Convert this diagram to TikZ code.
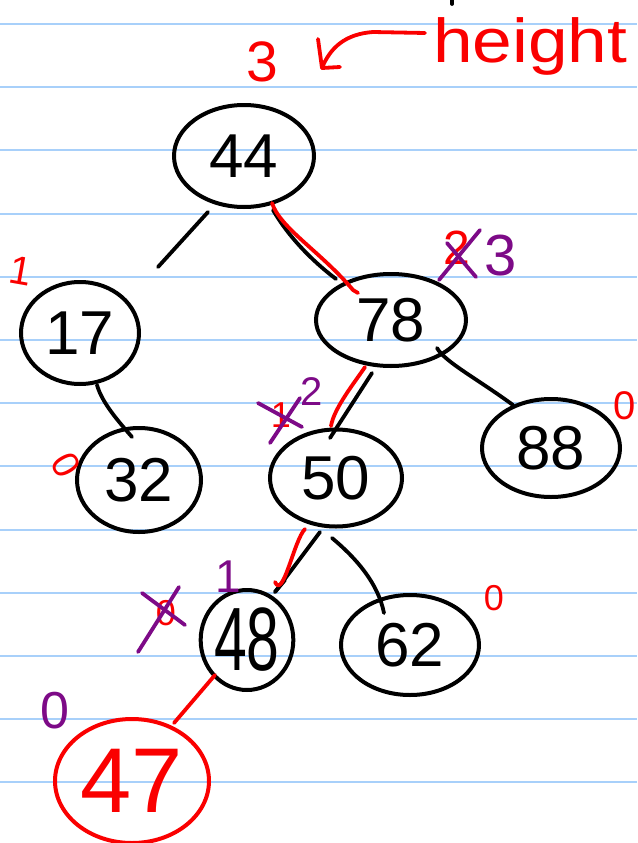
\documentclass[tikz,border=0pt]{standalone}
\usepackage{fontspec}
\usepackage{graphicx}
\setmainfont{Liberation Sans}
\usetikzlibrary{shapes.geometric,calc}
\definecolor{penred}{RGB}{250,0,0}
\definecolor{penpurple}{RGB}{125,10,135}
\definecolor{ruleblue}{RGB}{168,208,250}
\begin{document}
\begin{tikzpicture}[x=1pt,y=-1pt,
  treenode/.style={ellipse, draw=black, line width=4pt, inner sep=0pt, text=black,
    font=\fontsize{62}{62}\selectfont},
  pen/.style={line width=3.8pt, line cap=round, line join=round},
  redpen/.style={pen, draw=penred},
  purplepen/.style={pen, draw=penpurple},
  redlabel/.style={text=penred, inner sep=0pt},
  purplelabel/.style={text=penpurple, inner sep=0pt},
  rule/.style={draw=ruleblue, line width=2pt}]
\fill[white] (0,0) rectangle (637,843);
\useasboundingbox (0,0) rectangle (637,843);
% ruled paper
\foreach \k in {0,...,12} \draw[rule] (0,{24+63.2*\k}) -- (637,{24+63.2*\k});
% tiny mark at top
\draw[pen] (452,0) -- (452,4);

% tree nodes
\node[treenode, minimum width=140pt, minimum height=102pt] (n44) at (244,156) {44};
\node[treenode, minimum width=118pt, minimum height=102pt] (n17) at (80,333) {17};
\node[treenode, minimum width=150pt, minimum height=92pt] (n78) at (391,320) {78};
\node[treenode, minimum width=124pt, minimum height=104pt] (n32) at (139,480) {32};
\node[treenode, minimum width=132pt, minimum height=97pt] (n50) at (336,478) {50};
\node[treenode, minimum width=138pt, minimum height=98pt] (n88) at (551,448) {88};
\node[treenode, minimum width=90pt, minimum height=100pt] (n48) at (247,640) {\scalebox{0.95}[1.45]{48}};
\node[treenode, minimum width=138pt, minimum height=100pt] (n62) at (410,645) {62};
\node[treenode, draw=penred, text=penred, minimum width=154pt, minimum height=124pt,
  font=\fontsize{92}{92}\selectfont] (n47) at (132,781) {47};

% black connectors
\draw[pen] ($(n44)+(-36,56)$) -- ($(n17)+(78,-66)$);
\draw[pen] ($(n44)+(29,54)$) .. controls ($(n44)+(44,80)$) and ($(n78)+(-80,-60)$) .. ($(n78)+(-55,-41)$);
\draw[pen] ($(n17)+(17,52)$) .. controls ($(n17)+(22,70)$) and ($(n32)+(-20,-58)$) .. ($(n32)+(-7,-43)$);
\draw[pen] ($(n78)+(-19,53)$) -- ($(n50)+(-6,-40)$);
\draw[pen] ($(n78)+(46,28)$) .. controls ($(n78)+(54,42)$) and ($(n88)+(-75,-70)$) .. ($(n88)+(-38,-43)$);
\draw[pen] ($(n50)+(-16,54)$) -- ($(n48)+(28,-48)$);
\draw[pen] ($(n48)+(28,-48)$) -- ($(n48)+(38,-60)$);
\draw[pen] ($(n50)+(-4,60)$) .. controls ($(n50)+(20,80)$) and ($(n62)+(-32,-62)$) .. ($(n62)+(-26,-32)$);

% red connectors (search path)
\draw[redpen] ($(n44)+(28,47)$) .. controls ($(n44)+(36,72)$) and ($(n78)+(-70,-68)$) .. ($(n78)+(-38,-30)$) -- ($(n78)+(-33,-27)$);
\draw[redpen] ($(n78)+(-26,47)$) .. controls ($(n78)+(-36,62)$) and ($(n50)+(-2,-70)$) .. ($(n50)+(-5,-52)$);
\draw[redpen] ($(n50)+(-31,51)$) .. controls ($(n50)+(-42,62)$) and ($(n48)+(36,-40)$) .. ($(n48)+(28,-58)$);
\draw[redpen] ($(n48)+(-32,35)$) -- ($(n47)+(42,-58)$);

% height annotation
\node[redlabel, anchor=base west, font=\fontsize{62}{62}\selectfont] (lheight) at (433,63) {\scalebox{1.15}[1]{height}};
\node[redlabel, font=\fontsize{57}{57}\selectfont] (l3top) at (262,62) {3};
\coordinate (arrowstart) at (425,33);
\coordinate (arrowtip) at (322,68);
\draw[redpen] (arrowstart) -- (373,32) .. controls (345,34) and (330,48) .. (arrowtip);
\draw[redpen] (318,39) -- (arrowtip) -- (340,67);

% heights next to nodes
\node[redlabel, font=\fontsize{40}{40}\selectfont, rotate=-10] (l17) at (21,271) {1};
\node[redlabel, font=\fontsize{38}{38}\selectfont, rotate=-60] (l32) at (66,465) {0};
\node[redlabel, font=\fontsize{40}{40}\selectfont] (l88) at (625,406) {0};
\node[redlabel, font=\fontsize{36}{36}\selectfont] (l62) at (494,598) {0};
\node[purplelabel, font=\fontsize{52}{52}\selectfont] (l47) at (55,711) {0};

% 78: 2 crossed, 3
\node[redlabel, font=\fontsize{48}{48}\selectfont] (l78old) at (457,248) {2};
\draw[purplepen] (439,280) -- (480,230);
\draw[purplepen] (447,243) -- (476,277);
\node[purplelabel, font=\fontsize{58}{58}\selectfont] (l78) at (501,256) {3};

% 50: 1 crossed, 2
\node[redlabel, font=\fontsize{36}{36}\selectfont] (l50old) at (281,415) {1};
\draw[purplepen] (258,403) -- (302,427);
\draw[purplepen] (270,443) -- (300,398);
\node[purplelabel, font=\fontsize{40}{40}\selectfont] (l50) at (312,392) {2};

% 48: 0 crossed, 1
\node[redlabel, font=\fontsize{36}{36}\selectfont] (l48old) at (166,613) {0};
\draw[purplepen] (142,593) -- (185,625);
\draw[purplepen] (138,652) -- (179,587);
\node[purplelabel, font=\fontsize{46}{46}\selectfont] (l48) at (228,577) {1};
\end{tikzpicture}
\end{document}
